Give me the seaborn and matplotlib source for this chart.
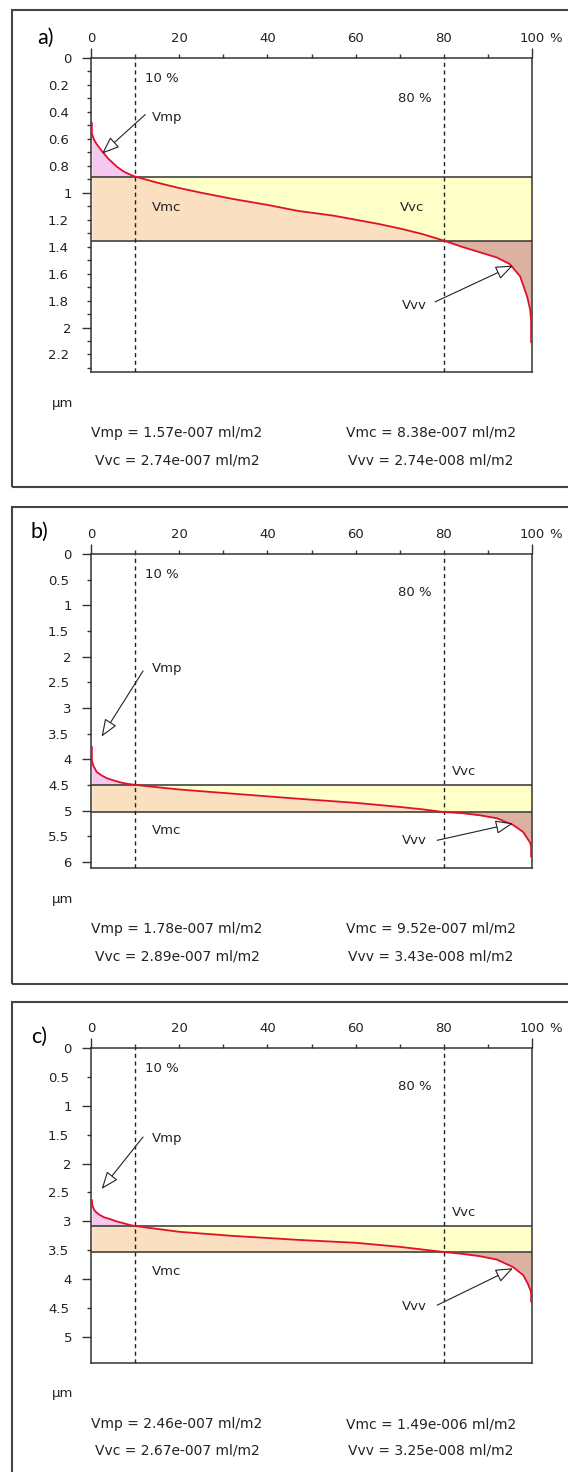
import numpy as np
import matplotlib
matplotlib.use("Agg")
import matplotlib.pyplot as plt
from matplotlib.patches import Rectangle
import seaborn as sns

# ---------------- data ----------------
# Abbott-Firestone (bearing area) curves: material ratio (%) vs height (um)
pct_a = [0.2, 0.2, 0.6, 1.3, 2.0, 2.7, 4.0, 5.0, 6.0, 7.3, 8.5, 10, 15, 20, 25, 32, 40, 47, 55, 60,
         65, 70, 75, 80, 84, 88, 92, 95, 97.3, 98.9, 99.6, 99.8, 99.8]
h_a = [0.48, 0.56, 0.60, 0.64, 0.67, 0.70, 0.75, 0.78, 0.81, 0.84, 0.86, 0.88, 0.925, 0.965, 1.0, 1.045,
       1.09, 1.135, 1.17, 1.20, 1.23, 1.265, 1.305, 1.355, 1.40, 1.44, 1.48, 1.53, 1.62, 1.77, 1.87, 1.95, 2.11]
mr_a = [0.88, 1.355]

pct_b = [0.2, 0.2, 0.5, 1.3, 2.5, 3.6, 5.0, 6.6, 8.3, 10, 20, 32, 47, 60, 70, 75, 80, 84, 88, 92,
         95.7, 98, 99.6, 99.8, 99.8]
h_b = [3.76, 4.02, 4.12, 4.25, 4.32, 4.37, 4.41, 4.45, 4.48, 4.50, 4.59, 4.67, 4.77, 4.85, 4.93, 4.975,
       5.03, 5.05, 5.09, 5.15, 5.28, 5.42, 5.63, 5.70, 5.90]
mr_b = [4.50, 5.03]

pct_c = [0.2, 0.3, 0.7, 1.3, 2.0, 3.0, 4.3, 5.8, 7.3, 8.7, 10, 15, 20, 32, 47, 60, 70, 80, 84, 88,
         92, 95.7, 98, 99, 99.7, 99.8, 99.8]
h_c = [2.63, 2.72, 2.80, 2.85, 2.89, 2.93, 2.96, 3.00, 3.03, 3.06, 3.08, 3.13, 3.18, 3.25, 3.32, 3.37,
       3.44, 3.53, 3.56, 3.60, 3.66, 3.79, 3.93, 4.07, 4.20, 4.25, 4.39]
mr_c = [3.08, 3.53]

stats_a = ["Vmp = 1.57e-007 ml/m2", "Vmc = 8.38e-007 ml/m2",
           "Vvc = 2.74e-007 ml/m2", "Vvv = 2.74e-008 ml/m2"]
stats_b = ["Vmp = 1.78e-007 ml/m2", "Vmc = 9.52e-007 ml/m2",
           "Vvc = 2.89e-007 ml/m2", "Vvv = 3.43e-008 ml/m2"]
stats_c = ["Vmp = 2.46e-007 ml/m2", "Vmc = 1.49e-006 ml/m2",
           "Vvc = 2.67e-007 ml/m2", "Vvv = 3.25e-008 ml/m2"]

x_major = [0, 100]
x_major_labels = ["0", "100"]
x_minor = [10, 20, 30, 40, 50, 60, 70, 80, 90]
x_minor_labels = ["", "20", "", "40", "", "60", "", "80", ""]

y_major_a = [0, 1, 2]
y_minor_a = [0.1, 0.2, 0.3, 0.4, 0.5, 0.6, 0.7, 0.8, 0.9, 1.1, 1.2, 1.3, 1.4, 1.5, 1.6, 1.7, 1.8,
             1.9, 2.1, 2.2, 2.3]
y_minor_labels_a = ["", "0.2", "", "0.4", "", "0.6", "", "0.8", "", "", "1.2", "", "1.4", "", "1.6",
                    "", "1.8", "", "", "2.2", ""]
y_major_b = [0, 1, 2, 3, 4, 5, 6]
y_minor_b = [0.5, 1.5, 2.5, 3.5, 4.5, 5.5]
y_minor_labels_b = ["0.5", "1.5", "2.5", "3.5", "4.5", "5.5"]
y_major_c = [0, 1, 2, 3, 4, 5]
y_minor_c = [0.5, 1.5, 2.5, 3.5, 4.5]
y_minor_labels_c = ["0.5", "1.5", "2.5", "3.5", "4.5"]

# ---------------- style ----------------
sns.set_style("white")
plt.rcParams["font.family"] = ["DejaVu Sans"]
W, H = 568, 1472
PINK, PEACH, YELLOW, BROWN = "#f6c8ef", "#fadfc0", "#ffffc8", "#dcb1a2"
RED = "#e0102a"
INK = "#222222"
SPINE = "#333333"
FS = 9.5

fig = plt.figure(figsize=(W / 100, H / 100), dpi=100)

panels = [
    dict(label="a)", lab_xy=(37, 38), top=58, bottom=372, box=(10, 487), ymax=2.33,
         pct=pct_a, h=h_a, mr=mr_a, stats=stats_a,
         ymaj=y_major_a, ymin=y_minor_a, yminlab=y_minor_labels_a,
         t10=0.15, t80=0.30, vmp=(13.8, 0.44), vmp_arrow=((12.3, 0.42), (2.5, 0.71)),
         vmc=(13.8, 1.11), vvc=(70.0, 1.11), vvv=(70.5, 1.84),
         vvv_arrow=((78.0, 1.81), (95.7, 1.54))),
    dict(label="b)", lab_xy=(31, 532), top=554, bottom=868, box=(507, 984), ymax=6.12,
         pct=pct_b, h=h_b, mr=mr_b, stats=stats_b,
         ymaj=y_major_b, ymin=y_minor_b, yminlab=y_minor_labels_b,
         t10=0.39, t80=0.76, vmp=(13.8, 2.24), vmp_arrow=((11.8, 2.28), (2.4, 3.56)),
         vmc=(13.8, 5.38), vvc=(81.9, 4.23), vvv=(70.5, 5.58),
         vvv_arrow=((78.5, 5.58), (95.7, 5.25))),
    dict(label="c)", lab_xy=(31, 1037), top=1048, bottom=1363, box=(1002, 1480), ymax=5.45,
         pct=pct_c, h=h_c, mr=mr_c, stats=stats_c,
         ymaj=y_major_c, ymin=y_minor_c, yminlab=y_minor_labels_c,
         t10=0.35, t80=0.67, vmp=(13.8, 1.56), vmp_arrow=((11.8, 1.54), (2.4, 2.44)),
         vmc=(13.8, 3.86), vvc=(81.9, 2.85), vvv=(70.5, 4.48),
         vvv_arrow=((78.5, 4.45), (95.7, 3.81))),
]


def fx(px):
    return px / W


def fy(py):
    return 1 - py / H


arrow_kw = dict(arrowstyle="-|>,head_length=0.9,head_width=0.35", fc="white", ec=INK,
                lw=0.8, mutation_scale=12, shrinkA=0, shrinkB=0)

for p in panels:
    # outer frame
    fig.add_artist(Rectangle((fx(12), fy(p["box"][1])), fx(570) - fx(12),
                             (p["box"][1] - p["box"][0]) / H, transform=fig.transFigure,
                             fill=False, ec="#444444", lw=1.5))
    ax = fig.add_axes([fx(91), fy(p["bottom"]), fx(532) - fx(91), (p["bottom"] - p["top"]) / H])
    ax.set_facecolor("white")
    x = np.asarray(p["pct"], float)
    y = np.asarray(p["h"], float)
    mr1, mr2 = p["mr"]

    ax.fill_between(x, y, mr1, where=x <= 10, color=PINK, lw=0)
    ax.fill_between(x, np.maximum(y, mr1), mr2, where=x <= 80, color=PEACH, lw=0)
    ax.fill_between(x, mr1, np.minimum(y, mr2), where=x >= 10, color=YELLOW, lw=0)
    ax.fill_between(x, mr2, y, where=x >= 80, color=BROWN, lw=0)

    ax.axhline(mr1, color=SPINE, lw=1.1, zorder=3)
    ax.axhline(mr2, color=SPINE, lw=1.1, zorder=3)
    ax.axvline(10, color=INK, lw=1.0, ls=(0, (3, 2.5)), zorder=3)
    ax.axvline(80, color=INK, lw=1.0, ls=(0, (3, 2.5)), zorder=3)

    sns.lineplot(x=x, y=y, ax=ax, sort=False, estimator=None, color=RED, lw=1.3, zorder=4)

    ax.set_xlim(0, 100)
    ax.set_ylim(p["ymax"], 0)
    ax.set_xlabel("")
    ax.set_ylabel("")

    for s in ax.spines.values():
        s.set_visible(True)
        s.set_color(SPINE)
        s.set_linewidth(1.1)

    ax.set_xticks(x_major)
    ax.set_xticklabels(x_major_labels)
    ax.set_xticks(x_minor, minor=True)
    ax.set_xticklabels(x_minor_labels, minor=True)
    ax.set_yticks(p["ymaj"])
    ax.set_yticklabels([f"{v:g}" for v in p["ymaj"]])
    ax.set_yticks(p["ymin"], minor=True)
    ax.set_yticklabels(p["yminlab"], minor=True)

    ax.tick_params(axis="x", which="both", top=True, labeltop=True, bottom=False,
                   labelbottom=False)
    ax.tick_params(axis="y", which="both", left=True, labelleft=True, right=False,
                   labelright=False)
    ax.tick_params(axis="x", which="major", direction="out", length=7.2, width=1.0,
                   pad=2.2, labelsize=FS, color=SPINE, labelcolor=INK)
    ax.tick_params(axis="x", which="minor", direction="out", length=2.9, width=1.0,
                   pad=6.5, labelsize=FS, color=SPINE, labelcolor=INK)
    ax.tick_params(axis="y", which="major", direction="out", length=6.5, width=1.0,
                   pad=7.2, labelsize=FS, color=SPINE, labelcolor=INK)
    ax.tick_params(axis="y", which="minor", direction="out", length=2.9, width=1.0,
                   pad=13, labelsize=FS, color=SPINE, labelcolor=INK)

    # annotations inside the plot
    ax.text(12.2, p["t10"], "10 %", fontsize=FS, color=INK, ha="left", va="center")
    ax.text(77.3, p["t80"], "80 %", fontsize=FS, color=INK, ha="right", va="center")
    ax.text(*p["vmp"], "Vmp", fontsize=FS, color=INK, ha="left", va="center")
    ax.text(*p["vmc"], "Vmc", fontsize=FS, color=INK, ha="left", va="center")
    ax.text(*p["vvc"], "Vvc", fontsize=FS, color=INK, ha="left", va="center")
    ax.text(*p["vvv"], "Vvv", fontsize=FS, color=INK, ha="left", va="center")
    tail, head = p["vmp_arrow"]
    ax.annotate("", xy=head, xytext=tail, arrowprops=arrow_kw, zorder=5)
    tail, head = p["vvv_arrow"]
    ax.annotate("", xy=head, xytext=tail, arrowprops=arrow_kw, zorder=5)

    # figure-level texts
    fig.text(fx(549), fy(p["top"] - 19), "%", fontsize=FS, color=INK, ha="left", va="center")
    fig.text(fx(p["lab_xy"][0]), fy(p["lab_xy"][1]), p["label"], fontsize=15.5, color="black",
             ha="left", va="center", family=["Lato", "DejaVu Sans"])
    fig.text(fx(52), fy(p["bottom"] + 31), "µm", fontsize=FS, color=INK, ha="left", va="center")
    b = p["bottom"]
    fig.text(fx(177), fy(b + 61), p["stats"][0], fontsize=10, color=INK, ha="center", va="center")
    fig.text(fx(431), fy(b + 61), p["stats"][1], fontsize=10, color=INK, ha="center", va="center")
    fig.text(fx(177), fy(b + 88), p["stats"][2], fontsize=10, color=INK, ha="center", va="center")
    fig.text(fx(431), fy(b + 88), p["stats"][3], fontsize=10, color=INK, ha="center", va="center")

fig.savefig("out.png", dpi=100, facecolor="white")
